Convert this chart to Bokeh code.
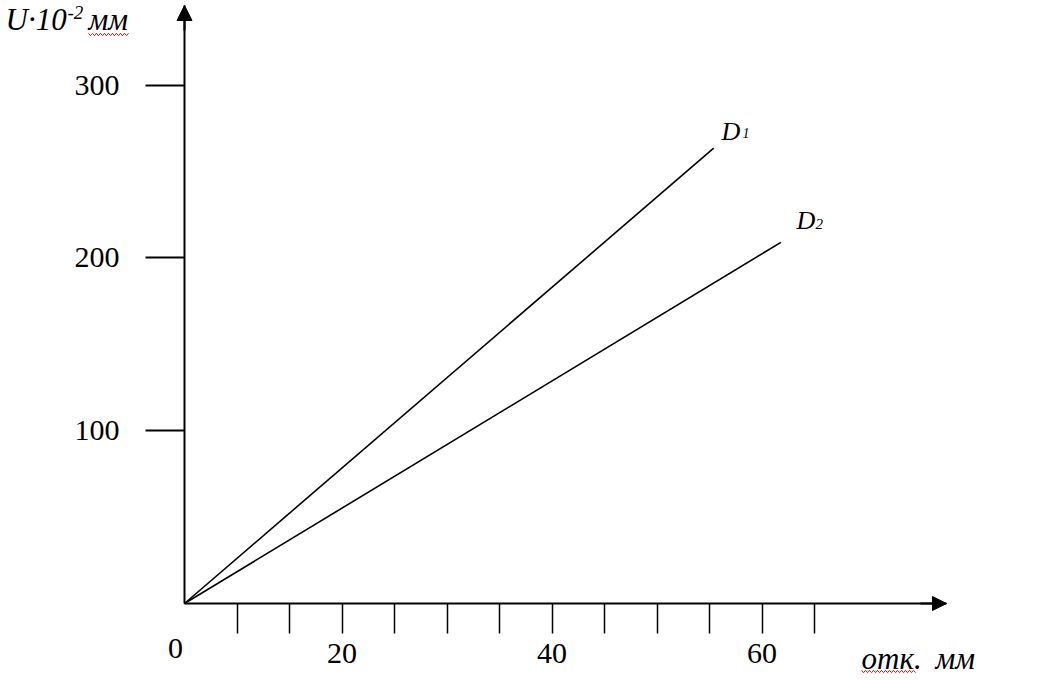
from bokeh.plotting import figure
from bokeh.models import Range1d, FixedTicker, Label, Arrow, NormalHead
from bokeh.embed import file_html
from bokeh.resources import INLINE

# ---- data ----
x_ticks = [5, 10, 15, 20, 25, 30, 35, 40, 45, 50, 55, 60]
x_tick_labels = ["", "", "20", "", "", "", "40", "", "", "", "60", ""]
y_ticks = [100, 200, 300]
y_tick_labels = ["100", "200", "300"]

d1_x = [0, 50.4]
d1_y = [0, 263.5]
d2_x = [0, 56.8]
d2_y = [0, 209.0]

# ---- pixel helpers for annotation placement ----
W, H = 1063, 681
OX, OY = 184, 603          # pixel position of the origin
KX, KY = 10.5, 1.728       # pixels per unit
BL = 9                     # baseline correction for labels

def dx(px):
    return (px - OX) / KX

def dy(py):
    return (OY - py) / KY

FONT = "Liberation Serif"

p = figure(width=W, height=H,
           x_range=Range1d(dx(0), dx(W)), y_range=Range1d(dy(H), dy(0)),
           output_backend="svg", toolbar_location=None,
           min_border_left=0, min_border_right=0,
           min_border_top=0, min_border_bottom=0)
p.grid.visible = False
p.outline_line_color = None
p.background_fill_color = "white"
p.border_fill_color = "white"

xa = p.xaxis[0]
xa.fixed_location = 0
xa.bounds = (0, dx(946))
xa.ticker = FixedTicker(ticks=x_ticks, minor_ticks=[])
xa.major_label_overrides = {t: l for t, l in zip(x_ticks, x_tick_labels)}
xa.major_tick_in = 0
xa.major_tick_out = 30
xa.major_tick_line_width = 1.5
xa.major_tick_line_color = "black"
xa.axis_line_width = 2
xa.axis_line_color = "black"
xa.major_label_standoff = 10
xa.major_label_text_font = FONT
xa.major_label_text_font_size = "30px"
xa.major_label_text_color = "black"

ya = p.yaxis[0]
ya.fixed_location = 0
ya.bounds = (0, dy(5))
ya.ticker = FixedTicker(ticks=y_ticks, minor_ticks=[])
ya.major_label_overrides = {t: l for t, l in zip(y_ticks, y_tick_labels)}
ya.major_tick_in = 0
ya.major_tick_out = 39
ya.major_tick_line_width = 2
ya.major_tick_line_color = "black"
ya.axis_line_width = 2
ya.axis_line_color = "black"
ya.major_label_standoff = 26
ya.major_label_text_font = FONT
ya.major_label_text_font_size = "30px"
ya.major_label_text_color = "black"

# lines
p.line(d1_x, d1_y, line_color="black", line_width=1.6)
p.line(d2_x, d2_y, line_color="black", line_width=1.6)

# arrow heads on axes
p.add_layout(Arrow(end=NormalHead(size=15, fill_color="black", line_color="black"),
                   x_start=0, y_start=dy(30), x_end=0, y_end=dy(5),
                   line_color="black", line_width=2))
p.add_layout(Arrow(end=NormalHead(size=14, fill_color="black", line_color="black"),
                   x_start=dx(920), y_start=0, x_end=dx(946), y_end=0,
                   line_color="black", line_width=2))

def lab(px, py, text, size, style="italic", align="left"):
    p.add_layout(Label(x=dx(px), y=dy(py - BL), text=text, text_font=FONT,
                       text_font_size=size, text_font_style=style,
                       text_baseline="alphabetic", text_align=align,
                       text_color="black"))

# y title  U·10^-2 мм
lab(5, 28, "U·10", "31px")
lab(67, 21, "-2", "19px")
lab(88, 28, "мм", "31px")
# x title
lab(861, 667, "отк.", "31px")
lab(935, 667, "мм", "31px")
# origin label
lab(175, 657, "0", "30px", style="normal", align="center")
# series labels
lab(721, 140, "D", "26px")
lab(742, 141, "1", "14px")
lab(796, 229, "D", "26px")
lab(815, 232, "2", "15px")

# spell-check wavy underlines
def wave(x0, x1, yc):
    xs, ys = [], []
    x = x0
    k = 0
    while x <= x1:
        xs.append(dx(x))
        ys.append(dy(yc + (1.2 if k % 2 else -1.2)))
        x += 2
        k += 1
    p.line(xs, ys, line_color="#d02020", line_width=1)

wave(88, 128, 34)
wave(861, 916, 671)

open("out.html", "w").write(file_html(p, INLINE))
